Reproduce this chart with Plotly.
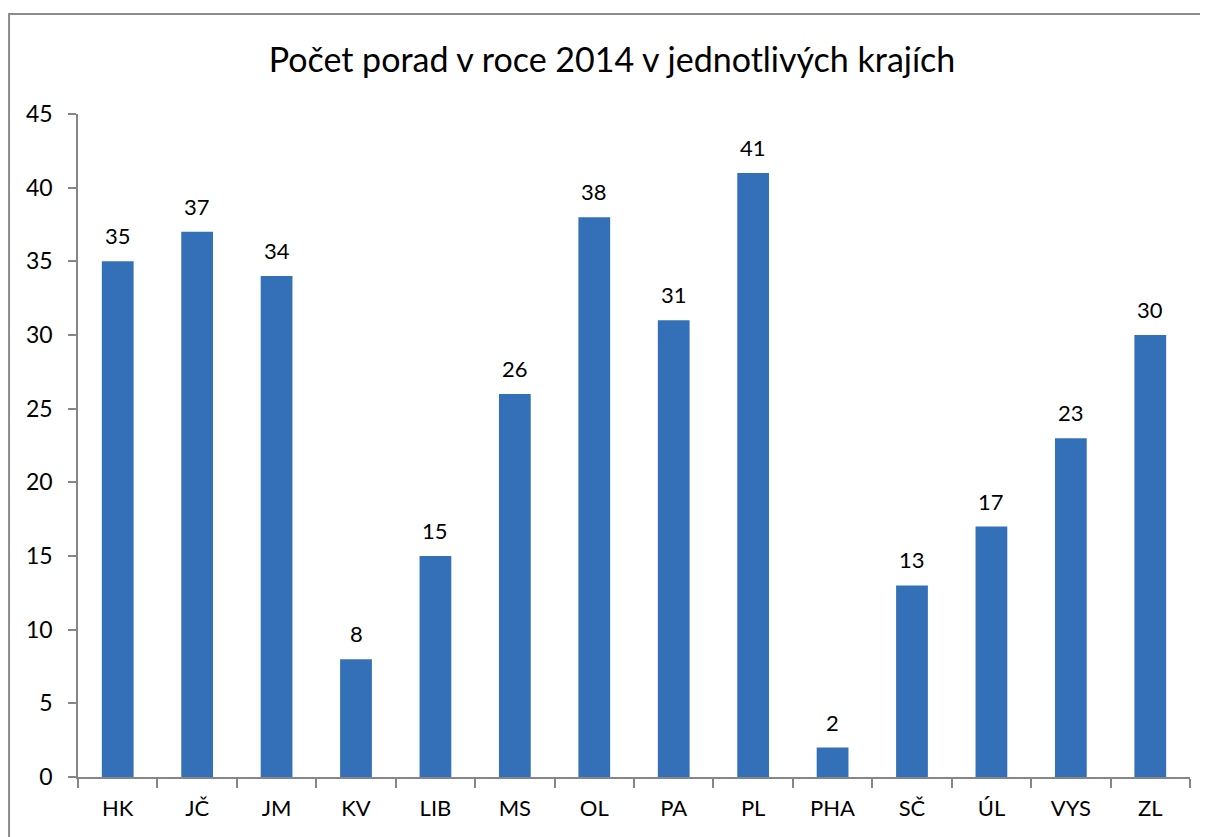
import plotly.graph_objects as go

categories = ["HK", "JČ", "JM", "KV", "LIB", "MS", "OL", "PA", "PL", "PHA", "SČ", "ÚL", "VYS", "ZL"]
values = [35, 37, 34, 8, 15, 26, 38, 31, 41, 2, 13, 17, 23, 30]
title_text = "Počet porad v roce 2014 v jednotlivých krajích"
y_ticks = [0, 5, 10, 15, 20, 25, 30, 35, 40, 45]

FONT = "Lato, 'Open Sans', sans-serif"

fig = go.Figure()
fig.add_trace(go.Bar(
    x=categories,
    y=values,
    marker=dict(color="#3470b8", line=dict(width=0)),
    hoverinfo="x+y",
))

for c, v in zip(categories, values):
    fig.add_annotation(x=c, y=v, text=str(v), showarrow=False,
                       yanchor="bottom", yshift=10,
                       font=dict(family=FONT, size=22, color="#000000"))

# outer chart frame (left and top edges; the rest runs off the picture)
fig.add_shape(type="path", xref="paper", yref="paper",
              path="M -0.062,-0.5 L -0.062,1.1508 L 1.5,1.1508",
              line=dict(color="#8c8c8c", width=2), layer="below")

fig.update_layout(
    width=1208, height=837,
    margin=dict(l=70, r=26, t=106, b=68),
    paper_bgcolor="white", plot_bgcolor="white",
    bargap=0.6,
    showlegend=False,
    title=dict(text=title_text, x=0.5, xanchor="center", xref="container",
               y=1 - 52 / 837, yanchor="middle", yref="container",
               font=dict(family=FONT, size=34, color="#000000")),
    font=dict(family=FONT, size=22, color="#000000"),
)
fig.update_xaxes(
    type="category", showline=True, linecolor="#868686", linewidth=1.5,
    ticks="outside", tickson="boundaries", ticklen=9, tickcolor="#868686", tickwidth=1.5,
    showgrid=False, tickfont=dict(family=FONT, size=22, color="#000000"),
    ticklabelstandoff=11,
)
fig.update_yaxes(
    range=[0, 45], tickvals=y_ticks, showline=True, linecolor="#868686", linewidth=1.5,
    ticks="outside", ticklen=8, tickcolor="#868686", tickwidth=1.5,
    showgrid=False, zeroline=False, tickfont=dict(family=FONT, size=23, color="#000000"),
    ticklabelstandoff=11,
)

fig.write_html("out.html")
